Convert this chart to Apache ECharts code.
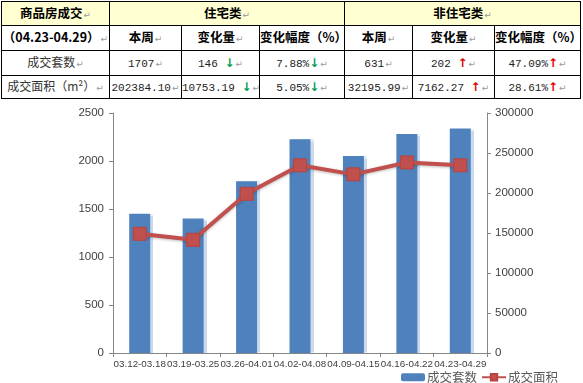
<!DOCTYPE html>
<html>
<head>
<meta charset="utf-8">
<script src="https://cdn.jsdelivr.net/npm/echarts@6/dist/echarts.min.js"></script>
<style>
html,body{margin:0;padding:0;background:#fff;width:583px;height:383px;overflow:hidden;}
#tbl{position:absolute;left:1px;top:1px;width:579px;border-collapse:collapse;table-layout:fixed;font-family:"Noto Sans CJK SC",sans-serif;color:#000;}
#tbl td{border:1px solid #000;padding:0;text-align:center;white-space:nowrap;overflow:hidden;font-size:12px;line-height:14px;}
#tbl tr.h td{font-weight:bold;font-size:12.5px;}
#tbl td.y{background:#FFFFD2;}
.num{font-family:"Liberation Mono","DejaVu Sans Mono",monospace;font-size:11px;color:#222;}
.pm{color:#9a9a9a;font-size:9px;font-weight:normal;font-family:"DejaVu Sans",sans-serif;margin-left:1px;}
.dn{color:#00A050;font-weight:bold;font-family:"DejaVu Sans",sans-serif;font-size:12px;}
.up{color:#E00000;font-weight:bold;font-family:"DejaVu Sans",sans-serif;font-size:12px;}
.lbl{color:#333;}
#chart{position:absolute;left:0;top:100px;width:583px;height:283px;}
</style>
</head>
<body>
<table id="tbl"></table>
<div id="chart"></div>
<script>
// ---- table data ----
var groupHeaders = ['商品房成交', '住宅类', '非住宅类'];
var period = '（04.23-04.29）';
var subHeaders = ['本周', '变化量', '变化幅度（%）'];
var rowLabels = ['成交套数', '成交面积（m²）'];
var resThisWeek = ['1707', '202384.10'];
var resChange = ['146', '10753.19'];
var resPct = ['7.88%', '5.05%'];
var resDir = ['dn', 'dn'];
var nonThisWeek = ['631', '32195.99'];
var nonChange = ['202', '7162.27'];
var nonPct = ['47.09%', '28.61%'];
var nonDir = ['up', 'up'];

// ---- chart data ----
var categories = ['03.12-03.18', '03.19-03.25', '03.26-04.01', '04.02-04.08', '04.09-04.15', '04.16-04.22', '04.23-04.29'];
var unitsSold = [1450, 1400, 1790, 2226, 2052, 2282, 2338];
var areaSold = [149000, 141500, 199000, 234600, 223300, 238171, 234580];
var seriesNames = ['成交套数', '成交面积'];

// build table
var colW = [108, 72, 78, 85, 68, 82, 86];
var rowH = [24, 25, 25, 23];
var PM = '<span class="pm">↵</span>';
function arrow(d){ return d === 'dn' ? '<span class="dn">↓</span>' : '<span class="up">↑</span>'; }
var html = '<colgroup>' + colW.map(function(w){return '<col style="width:'+w+'px">';}).join('') + '</colgroup>';
html += '<tr class="h" style="height:'+rowH[0]+'px"><td class="y">'+groupHeaders[0]+PM+'</td><td class="y" colspan="3">'+groupHeaders[1]+PM+'</td><td class="y" colspan="3">'+groupHeaders[2]+PM+'</td></tr>';
html += '<tr class="h" style="height:'+rowH[1]+'px"><td>'+period+PM+'</td>';
for (var g=0; g<2; g++) for (var k=0;k<3;k++) html += '<td>'+subHeaders[k]+PM+'</td>';
html += '</tr>';
for (var r=0;r<2;r++){
  html += '<tr style="height:'+rowH[r+2]+'px"><td class="lbl">'+rowLabels[r]+PM+'</td>';
  html += '<td><span class="num">'+resThisWeek[r]+'</span>'+PM+'</td>';
  html += '<td><span class="num">'+resChange[r]+' </span>'+arrow(resDir[r])+PM+'</td>';
  html += '<td><span class="num">'+resPct[r]+'</span>'+arrow(resDir[r])+PM+'</td>';
  html += '<td><span class="num">'+nonThisWeek[r]+'</span>'+PM+'</td>';
  html += '<td><span class="num">'+nonChange[r]+' </span>'+arrow(nonDir[r])+PM+'</td>';
  html += '<td><span class="num">'+nonPct[r]+'</span>'+arrow(nonDir[r])+PM+'</td>';
  html += '</tr>';
}
document.getElementById('tbl').innerHTML = html;

// chart
var chart = echarts.init(document.getElementById('chart'), null, {renderer:'canvas'});
var axisFont = {color:'#404040', fontSize:11.5, fontFamily:'"Liberation Sans", Arial, sans-serif', formatter:function(v){return String(v);}};
chart.setOption({
  animation:false,
  grid:{left:113, right:96, top:13, bottom:30, containLabel:false},
  legend:{
    data:seriesNames, left:396, top:266, itemGap:4, itemWidth:24, itemHeight:8,
    textStyle:{color:'#595959', fontSize:12.5, fontFamily:'"Noto Sans CJK SC", sans-serif', padding:[0,0,0,-3]}
  },
  xAxis:{
    type:'category', data:categories, boundaryGap:true,
    axisLine:{lineStyle:{color:'#868686', width:1}},
    axisTick:{show:true, length:4, lineStyle:{color:'#868686'}},
    axisLabel:{color:'#404040', fontSize:9.8, fontFamily:'"Liberation Sans", Arial, sans-serif', margin:6, interval:0}
  },
  yAxis:[
    {type:'value', min:0, max:2500, interval:500,
     axisLine:{show:true, lineStyle:{color:'#868686'}},
     axisTick:{show:true, length:4, lineStyle:{color:'#868686'}},
     splitLine:{show:false},
     axisLabel:Object.assign({margin:9}, axisFont)},
    {type:'value', min:0, max:300000, interval:50000, position:'right',
     axisLine:{show:true, lineStyle:{color:'#868686'}},
     axisTick:{show:true, length:4, lineStyle:{color:'#868686'}},
     splitLine:{show:false},
     axisLabel:Object.assign({margin:8}, axisFont)}
  ],
  series:[
    {name:seriesNames[0], type:'bar', data:unitsSold, yAxisIndex:0, barWidth:21,
     itemStyle:{color:'#4F81BD', shadowColor:'rgba(79,129,189,0.3)', shadowOffsetX:3, shadowOffsetY:0, shadowBlur:1}},
    {name:seriesNames[1], type:'line', data:areaSold, yAxisIndex:1,
     symbol:'rect', symbolSize:13,
     lineStyle:{color:'#C0504D', width:4, shadowColor:'rgba(0,0,0,0.25)', shadowBlur:3, shadowOffsetY:1},
     itemStyle:{color:'#C0504D', borderColor:'#B9413E', borderWidth:1}}
  ]
});
</script>
</body>
</html>
